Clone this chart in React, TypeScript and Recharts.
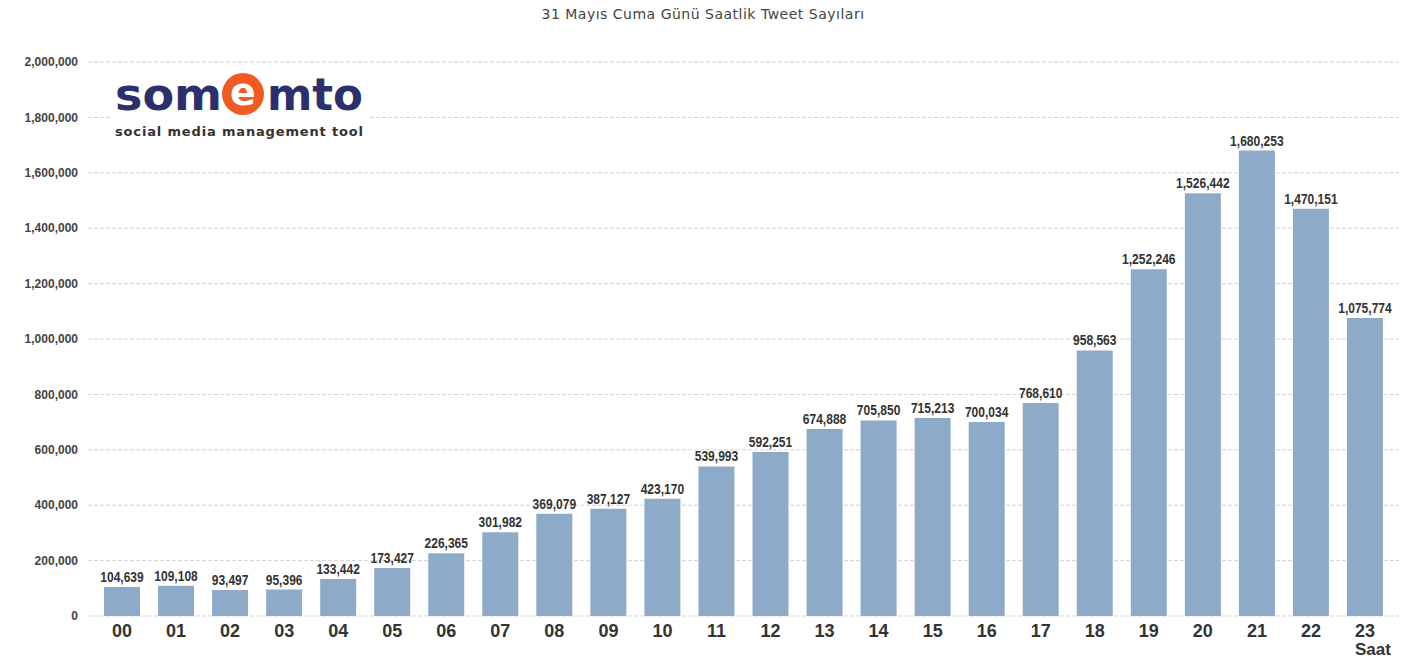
import React from "react";
import { BarChart, Bar, XAxis, YAxis, CartesianGrid, LabelList } from "recharts";

const hours = ["00","01","02","03","04","05","06","07","08","09","10","11","12","13","14","15","16","17","18","19","20","21","22","23"];
const tweets = [104639,109108,93497,95396,133442,173427,226365,301982,369079,387127,423170,539993,592251,674888,705850,715213,700034,768610,958563,1252246,1526442,1680253,1470151,1075774];
const yTicks = [0,200000,400000,600000,800000,1000000,1200000,1400000,1600000,1800000,2000000];
const title = "31 Mayıs Cuma Günü Saatlik Tweet Sayıları";
const xAxisName = "Saat";

const data = hours.map((h, i) => ({ hour: h, value: tweets[i] }));
const fmt = (v: number) => v.toLocaleString("en-US");

const XTick = (props: any) => {
  const { x, y, payload, index } = props;
  return (
    <g>
      <text x={x} y={y + 21} textAnchor="middle" fontFamily="'Liberation Sans', Arial, sans-serif" fontWeight="bold" fontSize={18} fill="#333">
        {payload.value}
      </text>
      {index === hours.length - 1 && (
        <text x={x + 8} y={y + 39} textAnchor="middle" fontFamily="'Liberation Sans', Arial, sans-serif" fontWeight="bold" fontSize={17} fill="#333">
          {xAxisName}
        </text>
      )}
    </g>
  );
};

const BarLabel = (props: any) => {
  const { x, y, width, value } = props;
  const cx = Number(x) + Number(width) / 2;
  return (
    <text transform={`translate(${cx},${Number(y) - 5}) scale(0.86,1)`} textAnchor="middle"
      fontFamily="'Liberation Sans', Arial, sans-serif" fontWeight="bold" fontSize={14} fill="#333">
      {fmt(Number(value))}
    </text>
  );
};

const Logo = () => (
  <svg width={260} height={80} style={{ position: "absolute", left: 110, top: 65 }}>
    <rect x={0} y={0} width={260} height={80} fill="#fff" />
    <text x={5} y={45} fontFamily="'DejaVu Sans', Verdana, sans-serif" fontWeight="bold" fontSize={45} fill="#2b2f6b" textLength={107} lengthAdjust="spacingAndGlyphs">som</text>
    <circle cx={133} cy={29} r={21} fill="#f15a22" />
    <text x={133} y={40} textAnchor="middle" fontFamily="'DejaVu Sans', Verdana, sans-serif" fontWeight="bold" fontSize={38} fill="#fff">e</text>
    <text x={157} y={45} fontFamily="'DejaVu Sans', Verdana, sans-serif" fontWeight="bold" fontSize={45} fill="#2b2f6b" textLength={96} lengthAdjust="spacingAndGlyphs">mto</text>
    <text x={5} y={71} fontFamily="'DejaVu Sans', Verdana, sans-serif" fontWeight={600} fontSize={13} fill="#333" textLength={248} lengthAdjust="spacing">social media management tool</text>
  </svg>
);

export default function App() {
  return (
    <div style={{ position: "absolute", left: 0, top: 0, width: 1406, height: 663, background: "#fff" }}>
      <div style={{ position: "absolute", left: 0, top: 6, width: 1406, textAlign: "center", fontFamily: "'DejaVu Sans', Verdana, sans-serif", fontSize: 14, letterSpacing: 0.5, color: "#444" }}>
        {title}
      </div>
      <BarChart width={1406} height={663} data={data} margin={{ top: 62, right: 7, bottom: 0, left: 0 }}>
        <CartesianGrid vertical={false} stroke="#d3d3d3" strokeDasharray="4 2" />
        <XAxis dataKey="hour" height={47} axisLine={false} tickLine={false} tickSize={0} tickMargin={0} padding={{ left: 7, right: 7 }} tick={<XTick />} interval={0} />
        <YAxis width={88} domain={[0, 2000000]} ticks={yTicks} axisLine={false} tickLine={false} tickSize={0} tickMargin={10} tickFormatter={fmt}
          tick={{ fontFamily: "'Liberation Sans', Arial, sans-serif", fontWeight: "bold", fontSize: 12, fill: "#444" }} />
        <Bar dataKey="value" fill="#8eaac9" barSize={36} isAnimationActive={false}>
          <LabelList dataKey="value" position="top" content={<BarLabel />} />
        </Bar>
      </BarChart>
      <Logo />
    </div>
  );
}
